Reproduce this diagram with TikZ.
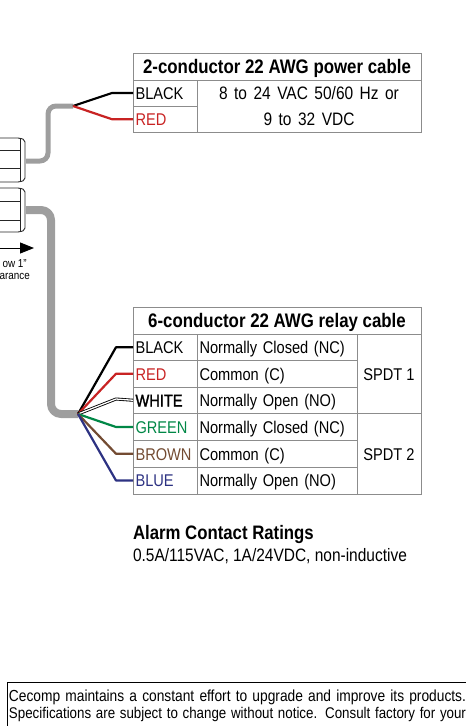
\documentclass[tikz,border=0pt]{standalone}
\usepackage{fontspec}
\setmainfont[FakeStretch=0.86]{Liberation Sans}
\usetikzlibrary{arrows.meta}
\definecolor{gridgray}{RGB}{140,140,140}
\definecolor{cablegray}{RGB}{158,158,158}
\definecolor{wred}{RGB}{200,35,35}
\definecolor{wgreen}{RGB}{0,135,70}
\definecolor{wbrown}{RGB}{115,75,50}
\definecolor{wblue}{RGB}{45,50,130}
\newcommand{\cell}[7][]{% opts, name, x1, y1, x2, y2, text
  \node[cellbox,#1,minimum width=#5pt-#3pt,minimum height=#6pt-#4pt] (#2) at ({(#3+#5)/2*1pt},{-(#4+#6)/2*1pt}) {#7};}
\tikzset{
  cellbox/.style={draw=gridgray,line width=1pt,inner sep=0pt,outer sep=0pt,font=\fontsize{17}{17}\selectfont,text=black,text height=12.5pt,text depth=0pt},
  colone/.style={text width=59pt},
  coltwo/.style={text width=155pt},
  headtext/.style={font=\fontsize{19.6}{19.6}\selectfont\bfseries,text height=14.5pt},
  cable/.style={draw=cablegray,line join=round,rounded corners=8pt},
  wire/.style={line width=2.2pt,line join=round},
  gland/.style={draw=black!85,line width=.9pt},
  plain/.style={inner sep=0pt,outer sep=0pt,anchor=base west,text=black},
  clear/.style={inner sep=0pt,anchor=base east,font=\fontsize{11.5}{11.5}\selectfont}
}
\begin{document}
\begin{tikzpicture}[x=1pt,y=-1pt]
\useasboundingbox (0,0) rectangle (466,726);

% glands
\coordinate (g1) at (26,161);
\coordinate (g2) at (26,210);
\draw[gland,rounded corners=2pt] (0,138) -- (20,138) -- (25,140) -- (25,180) -- (20,182) -- (0,182);
\draw[gland] (20,138) -- (20,182) (0,150) -- (20,150) (0,168) -- (20,168);
\draw[gland,rounded corners=2pt] (0,188) -- (20,188) -- (25,190) -- (25,230) -- (20,232) -- (0,232);
\draw[gland] (20,188) -- (20,232) (0,201) -- (20,201) (0,220) -- (20,220);

% clearance
\coordinate (ca) at (0,248);
\coordinate (cb) at (34,248);
\draw[line width=.9pt,-{Triangle[length=14pt,width=11pt]}] (ca) -- (cb);
\node[clear] (ctext1) at (27,267) {ow 1"};
\node[clear] (ctext2) at (30,279) {arance};

% power table
\cell[headtext]{ph}{133}{53}{421}{80}{2-conductor 22 AWG power cable}
\cell[colone]{pblack}{133}{80}{197}{106}{BLACK}
\cell[colone,text=wred]{pred}{133}{106}{197}{132.5}{RED}
\node[draw=gridgray,line width=1pt,inner sep=0pt,minimum width=224pt,minimum height=52.5pt,align=center,font=\fontsize{18}{26.5}\selectfont] (pspec) at (309,106.25) {\spaceskip=6.5pt plus 1pt 8 to 24 VAC 50/60 Hz or\\\spaceskip=6.5pt plus 1pt 9 to 32 VDC};

% relay table
\cell[headtext]{rh}{133}{307}{421}{334}{6-conductor 22 AWG relay cable}
\cell[colone]{r1}{133}{334}{197}{360.5}{BLACK}
\cell[colone,text=wred]{r2}{133}{360.5}{197}{387}{RED}
\cell[colone]{r3}{133}{387}{197}{413.5}{\addfontfeature{FakeBold=1.5}WHITE}
\cell[colone,text=wgreen]{r4}{133}{413.5}{197}{440.5}{GREEN}
\cell[colone,text=wbrown]{r5}{133}{440.5}{197}{467}{BROWN}
\cell[colone,text=wblue]{r6}{133}{467}{197}{494}{BLUE}
\cell[coltwo]{f1}{197}{334}{357}{360.5}{Normally Closed (NC)}
\cell[coltwo]{f2}{197}{360.5}{357}{387}{Common (C)}
\cell[coltwo]{f3}{197}{387}{357}{413.5}{Normally Open (NO)}
\cell[coltwo]{f4}{197}{413.5}{357}{440.5}{Normally Closed (NC)}
\cell[coltwo]{f5}{197}{440.5}{357}{467}{Common (C)}
\cell[coltwo]{f6}{197}{467}{357}{494}{Normally Open (NO)}
\cell{s1}{357}{334}{421}{413.5}{SPDT 1}
\cell{s2}{357}{413.5}{421}{494}{SPDT 2}

% cables
\coordinate (pj) at (73,106);
\coordinate (rj) at (78,414);
\draw[cable,line width=5pt] (g1) -- (48,161) -- (48,106) -- (pj);
\draw[cable,line width=8pt,rounded corners=10pt] (g2) -- (51,210) -- (51,414) -- (rj);

% power wires
\draw[wire,black] (pj) -- (112,0 |- pblack.west) -- (pblack.west);
\draw[wire,wred] (pj) -- (112,0 |- pred.west) -- (pred.west);

% relay wires
\draw[wire,black] (rj) -- (116,0 |- r1.west) -- (r1.west);
\draw[wire,wred] (rj) -- (116,0 |- r2.west) -- (r2.west);
\draw[line width=3pt,black,line join=round] (rj) -- (116,399) -- (r3.west);
\draw[line width=1.3pt,white,line join=round] (rj) -- (116,399) -- (r3.west);
\draw[wire,wgreen] (rj) -- (116,0 |- r4.west) -- (r4.west);
\draw[wire,wbrown] (rj) -- (116,0 |- r5.west) -- (r5.west);
\draw[wire,wblue] (rj) -- (116,0 |- r6.west) -- (r6.west);

% ratings
\node[plain,font=\fontsize{19.5}{19.5}\selectfont\bfseries] (rt) at (133,539) {Alarm Contact Ratings};
\node[plain,font=\fontsize{18}{18}\selectfont] (rv) at (133,561) {0.5A/115VAC, 1A/24VDC, non-inductive};

% footer
\coordinate (fa) at (7,726);
\coordinate (fb) at (7,682);
\coordinate (fc) at (466,682);
\draw[line width=1pt,black] (fa) -- (fb) -- (fc);
\node[plain,font=\fontsize{16}{16}\selectfont] (ft1) at (9,701) {\hbox to 457pt{Cecomp maintains a constant effort to upgrade and improve its products.}};
\node[plain,font=\fontsize{15.5}{15.5}\selectfont] (ft2) at (9,718) {\hbox to 457pt{Specifications are subject to change without notice. Consult factory for your}};
\end{tikzpicture}
\end{document}
